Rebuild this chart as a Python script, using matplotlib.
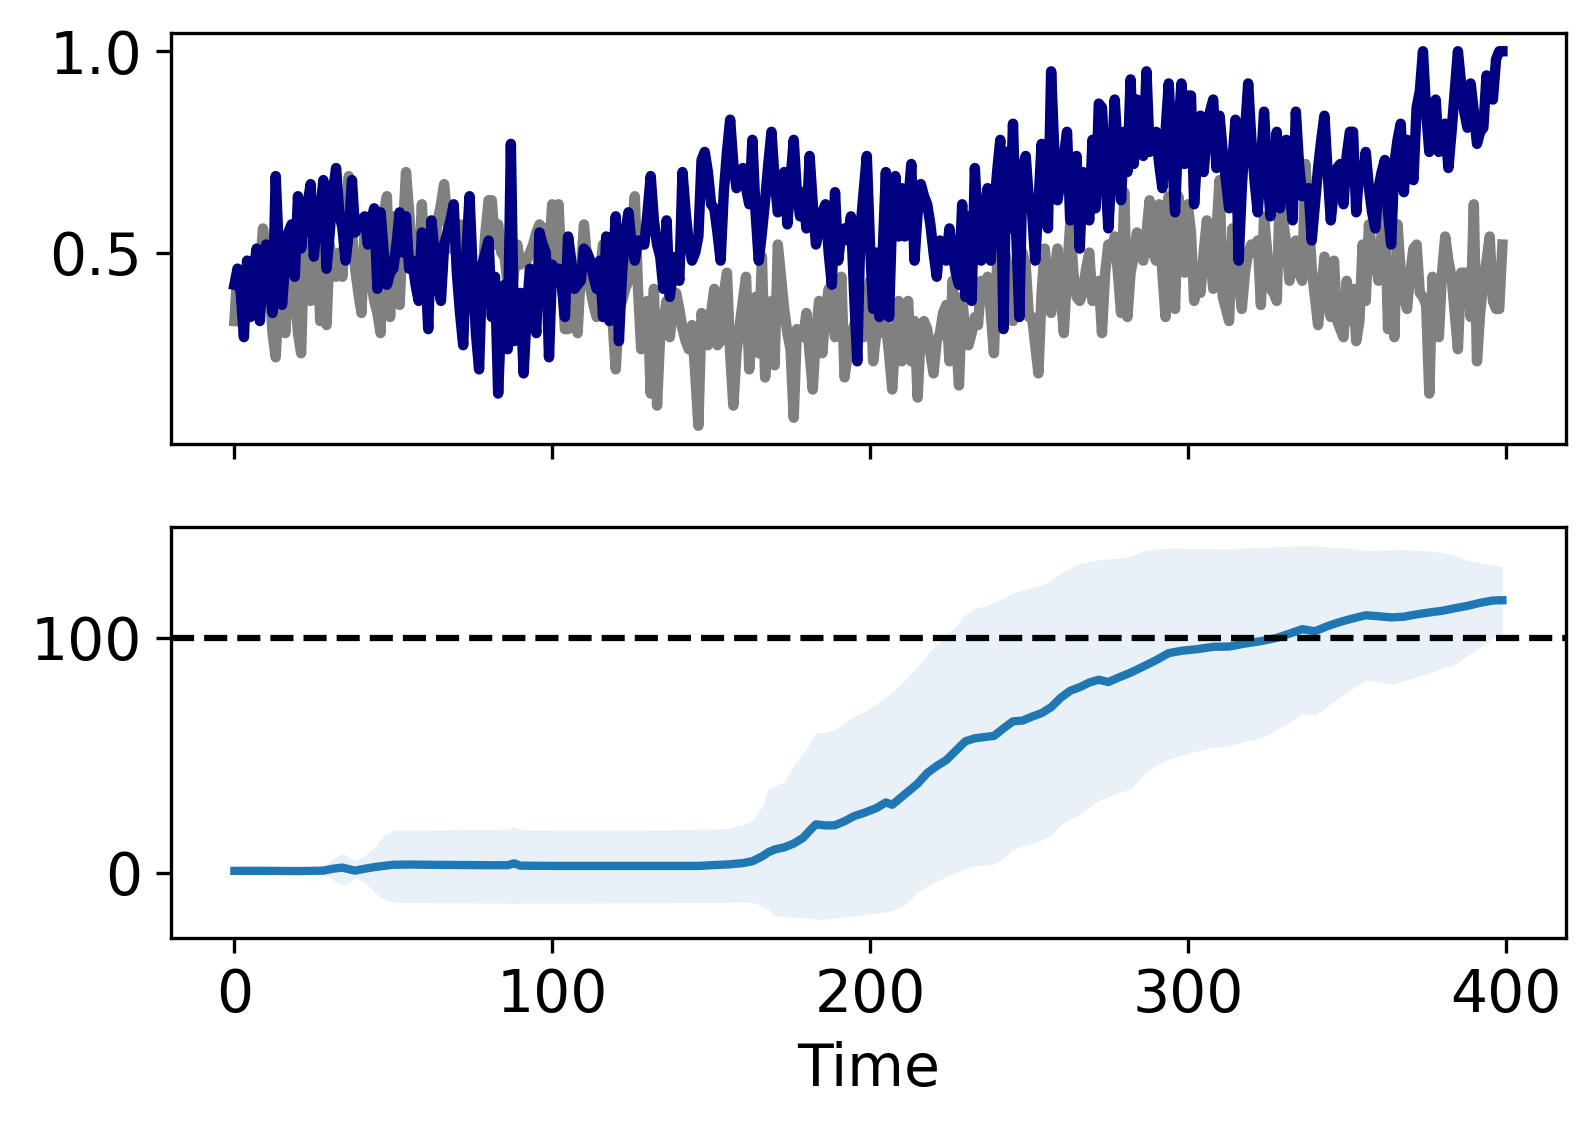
import matplotlib
matplotlib.use('Agg')
import matplotlib.pyplot as plt
import numpy as np

# top panel: two noisy series, one value per time step
blue_vals = [
    0.42, 0.46, 0.40, 0.29, 0.48, 0.34, 0.45, 0.51, 0.33, 0.45,
    0.52, 0.42, 0.35, 0.69, 0.50, 0.37, 0.48, 0.55, 0.57, 0.44,
    0.64, 0.51, 0.58, 0.62, 0.67, 0.49, 0.58, 0.60, 0.68, 0.46,
    0.55, 0.65, 0.71, 0.60, 0.56, 0.48, 0.55, 0.68, 0.55, 0.57,
    0.58, 0.59, 0.52, 0.58, 0.61, 0.41, 0.60, 0.50, 0.42, 0.45,
    0.46,
    0.52, 0.60, 0.50, 0.59, 0.46, 0.48, 0.42, 0.38, 0.55, 0.47,
    0.31, 0.58, 0.50, 0.42, 0.38, 0.52, 0.55, 0.58, 0.62, 0.45,
    0.35, 0.27, 0.50, 0.64, 0.45, 0.30, 0.21, 0.47, 0.50, 0.53,
    0.34, 0.44, 0.15, 0.35, 0.42, 0.26, 0.77, 0.28, 0.35, 0.40,
    0.20, 0.35, 0.46, 0.38, 0.30, 0.55, 0.52, 0.50, 0.24, 0.47,
    0.45, 0.46, 0.42, 0.34, 0.54, 0.48, 0.41, 0.42, 0.43, 0.51,
    0.50, 0.48, 0.44, 0.41, 0.48, 0.34, 0.54, 0.33, 0.45, 0.59,
    0.28, 0.45, 0.55, 0.60, 0.52, 0.48, 0.53, 0.52, 0.52, 0.60,
    0.69, 0.58, 0.52, 0.49, 0.41, 0.58, 0.39, 0.45, 0.49, 0.43,
    0.70, 0.60, 0.52, 0.48, 0.50, 0.54, 0.73, 0.75, 0.70, 0.62,
    0.61, 0.55, 0.48, 0.65, 0.75, 0.83, 0.72, 0.66, 0.68, 0.71,
    0.66, 0.62, 0.78, 0.60, 0.48, 0.55, 0.63, 0.72, 0.80, 0.68,
    0.60, 0.65, 0.70, 0.57, 0.68, 0.78, 0.65, 0.59, 0.65, 0.56,
    0.74, 0.62, 0.52, 0.56, 0.60, 0.62, 0.50, 0.42, 0.65, 0.48,
    0.55, 0.56, 0.53, 0.59, 0.40, 0.23, 0.56, 0.65, 0.74, 0.52,
    0.36, 0.50, 0.34, 0.50, 0.70, 0.34, 0.60, 0.69, 0.54, 0.66,
    0.54, 0.62, 0.72, 0.48, 0.60, 0.67, 0.64, 0.62, 0.57, 0.50,
    0.44, 0.53, 0.50, 0.48, 0.56, 0.50, 0.45, 0.42, 0.62, 0.39,
    0.59, 0.38, 0.71, 0.55, 0.48, 0.60, 0.66, 0.48, 0.60, 0.70,
    0.78, 0.31, 0.75, 0.56, 0.82, 0.55, 0.34, 0.71, 0.74, 0.63,
    0.60, 0.48, 0.62, 0.77, 0.65, 0.56, 0.95, 0.75, 0.63, 0.68,
    0.74, 0.80, 0.58, 0.65, 0.74, 0.51, 0.70, 0.62, 0.58, 0.78,
    0.61, 0.87, 0.86, 0.70, 0.56, 0.70, 0.88, 0.75, 0.63, 0.80,
    0.70, 0.93, 0.72, 0.88, 0.80, 0.74, 0.95, 0.75, 0.78, 0.80,
    0.72, 0.66, 0.80, 0.92, 0.75, 0.60, 0.80, 0.92, 0.72, 0.89,
    0.89, 0.62, 0.75, 0.84, 0.70, 0.80, 0.85, 0.88, 0.71, 0.84,
    0.75, 0.68, 0.61, 0.72, 0.83, 0.48, 0.66, 0.80, 0.92, 0.78,
    0.68, 0.60, 0.72, 0.85, 0.70, 0.59, 0.70, 0.80, 0.61, 0.70,
    0.78, 0.65, 0.58, 0.85, 0.72, 0.64, 0.65, 0.66, 0.53, 0.62,
    0.71, 0.78, 0.84, 0.70, 0.58, 0.66, 0.71, 0.72, 0.62, 0.74,
    0.80, 0.80, 0.60, 0.71, 0.68, 0.75, 0.66, 0.60, 0.56, 0.66,
    0.70, 0.73, 0.60, 0.52, 0.72, 0.78, 0.82, 0.65, 0.78, 0.72,
    0.68, 0.86, 0.90, 1.00, 0.85, 0.75, 0.82, 0.88, 0.75, 0.78,
    0.82, 0.71, 0.80, 0.90, 1.00, 0.92, 0.85, 0.81, 0.92, 0.85,
    0.77, 0.80, 0.81, 0.94, 0.90, 0.88, 0.98, 1.00, 1.00,
]

gray_vals = [
    0.33, 0.46, 0.40, 0.35, 0.42, 0.38, 0.48, 0.40, 0.45, 0.56,
    0.50, 0.43, 0.30, 0.24, 0.40, 0.48, 0.30, 0.43, 0.48, 0.40,
    0.30, 0.25, 0.52, 0.45, 0.38, 0.50, 0.55, 0.33, 0.40, 0.32,
    0.52, 0.46, 0.44, 0.50, 0.44, 0.58, 0.69, 0.55, 0.46, 0.40,
    0.35, 0.56, 0.50, 0.43, 0.38, 0.35, 0.30, 0.60, 0.64, 0.34,
    0.59,
    0.42, 0.37, 0.55, 0.70, 0.60, 0.48, 0.46, 0.44, 0.62, 0.43,
    0.46, 0.48, 0.52, 0.58, 0.62, 0.67, 0.58, 0.51, 0.55, 0.51,
    0.57, 0.50, 0.47, 0.44, 0.41, 0.39, 0.42, 0.44, 0.55, 0.63,
    0.63, 0.52, 0.57, 0.50, 0.49, 0.42, 0.38, 0.45, 0.52, 0.47,
    0.48, 0.48, 0.50, 0.52, 0.55, 0.57, 0.56, 0.56, 0.49, 0.62,
    0.45, 0.62, 0.45, 0.31, 0.31, 0.35, 0.42, 0.30, 0.45, 0.57,
    0.48, 0.41, 0.37, 0.34, 0.45, 0.52, 0.43, 0.46, 0.33, 0.21,
    0.36, 0.38, 0.41, 0.43, 0.55, 0.64, 0.41, 0.26, 0.33, 0.38,
    0.15, 0.41, 0.12, 0.30, 0.33, 0.38, 0.29, 0.35, 0.40, 0.36,
    0.31, 0.28, 0.26, 0.32, 0.20, 0.07, 0.35, 0.30, 0.27, 0.35,
    0.41, 0.27, 0.28, 0.40, 0.45, 0.25, 0.12, 0.25, 0.32, 0.38,
    0.44, 0.21, 0.35, 0.39, 0.25, 0.49, 0.19, 0.30, 0.38, 0.22,
    0.52, 0.44, 0.36, 0.30, 0.26, 0.09, 0.31, 0.30, 0.29, 0.35,
    0.25, 0.16, 0.30, 0.38, 0.25, 0.35, 0.41, 0.35, 0.29, 0.38,
    0.44, 0.19, 0.25, 0.29, 0.32, 0.34, 0.31, 0.29, 0.36, 0.43,
    0.23, 0.30, 0.30, 0.35, 0.32, 0.25, 0.16, 0.30, 0.38, 0.23,
    0.30, 0.38, 0.23, 0.33, 0.14, 0.31, 0.33, 0.31, 0.25, 0.20,
    0.28, 0.30, 0.35, 0.37, 0.23, 0.43, 0.30, 0.17, 0.39, 0.30,
    0.27, 0.30, 0.34, 0.32, 0.43, 0.40, 0.44, 0.35, 0.25, 0.47,
    0.50, 0.52, 0.48, 0.40, 0.33, 0.47, 0.45, 0.50, 0.47, 0.34,
    0.34, 0.27, 0.20, 0.40, 0.51, 0.42, 0.35, 0.45, 0.51, 0.40,
    0.30, 0.45, 0.57, 0.45, 0.39, 0.38, 0.40, 0.46, 0.50, 0.38,
    0.40, 0.43, 0.30, 0.45, 0.52, 0.50, 0.54, 0.45, 0.35, 0.65,
    0.34, 0.45, 0.49, 0.55, 0.50, 0.48, 0.55, 0.63, 0.50, 0.48,
    0.62, 0.45, 0.34, 0.64, 0.45, 0.36, 0.64, 0.50, 0.45, 0.62,
    0.55, 0.38, 0.45, 0.40, 0.50, 0.58, 0.50, 0.41, 0.55, 0.68,
    0.39, 0.36, 0.33, 0.56, 0.48, 0.43, 0.36, 0.45, 0.50, 0.52,
    0.50, 0.53, 0.37, 0.59, 0.50, 0.41, 0.40, 0.38, 0.66, 0.58,
    0.52, 0.43, 0.48, 0.53, 0.45, 0.43, 0.72, 0.60, 0.46, 0.39,
    0.32, 0.40, 0.49, 0.38, 0.34, 0.48, 0.33, 0.31, 0.29, 0.43,
    0.33, 0.41, 0.28, 0.33, 0.52, 0.38, 0.57, 0.50, 0.48, 0.43,
    0.55, 0.61, 0.31, 0.47, 0.29, 0.57, 0.45, 0.39, 0.36, 0.45,
    0.51, 0.52, 0.40, 0.39, 0.37, 0.15, 0.44, 0.35, 0.29, 0.45,
    0.54, 0.48, 0.44, 0.35, 0.26, 0.45, 0.45, 0.45, 0.34, 0.62,
    0.23, 0.35, 0.43, 0.48, 0.54, 0.38, 0.36, 0.36, 0.52,
]

# bottom panel: mean curve with a spread band, read at these times
band_t = [0, 10, 20, 28, 31, 34, 36, 38, 41, 44, 47, 50, 55, 60, 70, 80, 86, 88, 90,
          100, 110, 120, 130, 140, 146, 150, 155, 160, 163, 166, 168, 170, 173, 176,
          179, 181, 183, 186, 189, 192, 195, 198, 202, 205, 207, 211, 215, 218, 221,
          224, 227, 230, 233, 236, 239, 242, 245, 248, 251, 254, 257, 260, 263, 266,
          269, 272, 275, 278, 282, 286, 290, 294, 298, 303, 308, 313, 318, 323, 328,
          332, 336, 340, 344, 348, 352, 356, 360, 364, 368, 372, 376, 380, 384, 388,
          392, 396, 399]
band_mean = [0.9, 0.9, 0.8, 1.0, 1.8, 2.3, 1.6, 1.0, 1.8, 2.5, 3.0, 3.5, 3.6, 3.5, 3.4,
             3.3, 3.3, 4.1, 3.1, 3.0, 3.0, 3.0, 3.0, 3.0, 3.0, 3.3, 3.6, 4.2, 5.0, 7.0,
             8.8, 10.0, 10.9, 12.5, 15.0, 18.0, 20.7, 20.2, 20.3, 22.0, 24.2, 25.5, 27.6,
             30.0, 29.0, 33.5, 38.0, 42.5, 45.5, 48.0, 52.0, 56.0, 57.3, 57.8, 58.3, 61.5,
             64.5, 64.8, 66.5, 68.0, 70.5, 74.5, 77.5, 79.0, 81.0, 82.2, 81.2, 83.0, 85.2,
             87.8, 90.5, 93.5, 94.5, 95.2, 96.2, 96.3, 97.6, 98.6, 100.0, 101.8, 103.7,
             102.8, 105.0, 106.8, 108.3, 109.6, 109.2, 108.7, 109.0, 110.0, 110.8, 111.5,
             112.6, 113.6, 114.9, 115.9, 116.0]
band_low = [0.9, 0.9, 0.8, -0.5, -3.0, -5.0, -4.0, -2.3, -4.0, -8.0, -11.0, -12.4, -12.6,
            -12.6, -12.7, -12.8, -12.8, -13.3, -12.8, -12.8, -12.8, -12.7, -12.7, -12.6,
            -12.6, -12.6, -12.5, -12.3, -12.5, -14.0, -15.4, -18.3, -18.5, -18.8, -19.0,
            -19.3, -19.7, -19.5, -19.2, -18.5, -18.3, -17.8, -17.0, -16.5, -16.0, -13.5,
            -8.3, -5.5, -3.5, -1.5, 0.0, 2.0, 3.0, 3.3, 3.7, 6.5, 10.0, 11.5, 12.5, 14.0,
            16.0, 20.5, 23.0, 25.0, 28.0, 31.0, 32.5, 34.2, 35.6, 42.0, 45.5, 48.5, 50.0,
            51.9, 53.4, 54.1, 56.0, 57.3, 61.0, 64.0, 67.6, 67.0, 71.0, 75.0, 78.5, 82.2,
            81.5, 80.3, 81.8, 83.5, 85.0, 87.0, 88.8, 92.5, 96.0, 100.0, 101.6]
band_high = [0.9, 0.9, 0.8, 2.5, 6.0, 8.4, 6.5, 5.1, 7.3, 10.8, 15.8, 18.0, 18.3, 18.3,
             18.4, 18.5, 18.6, 19.7, 18.4, 18.3, 18.3, 18.3, 18.3, 18.4, 18.6, 18.6, 19.0,
             20.5, 22.5, 28.0, 36.0, 37.0, 38.8, 46.0, 51.0, 55.0, 59.7, 59.7, 61.0, 64.0,
             66.6, 68.2, 72.0, 75.0, 77.0, 82.0, 88.0, 93.0, 97.0, 101.0, 105.0, 110.0,
             112.5, 113.5, 115.0, 117.0, 119.0, 120.5, 121.5, 122.5, 124.5, 127.5, 129.8,
             131.5, 132.5, 133.2, 133.6, 133.8, 134.7, 137.0, 137.8, 138.2, 138.1, 138.0,
             137.9, 137.9, 138.2, 138.5, 138.8, 139.0, 139.2, 139.0, 138.7, 138.4, 138.0,
             137.1, 137.3, 137.5, 137.5, 137.2, 137.0, 136.3, 135.0, 133.0, 132.0, 131.2,
             130.0]
target_level = 100

plt.rcParams['font.family'] = 'DejaVu Sans'
plt.rcParams['font.size'] = 14

fig = plt.figure(figsize=(1595 / 300, 1129 / 300), dpi=300)
ax1 = fig.add_axes([0.1072, 0.6063, 0.8745, 0.3649])
ax2 = fig.add_axes([0.1072, 0.1692, 0.8745, 0.3640], sharex=ax1)

t = np.arange(len(blue_vals))
ax1.plot(t, gray_vals, color='gray', linewidth=2.5)
ax1.plot(t, blue_vals, color='navy', linewidth=2.5)
ax1.set_yticks([0.5, 1.0])
ax1.tick_params(labelbottom=False)

ax2.fill_between(band_t, band_low, band_high, color='#1f77b4', alpha=0.1, linewidth=0)
ax2.plot(band_t, band_mean, color='#1f77b4', linewidth=2)
ax2.axhline(target_level, color='black', linestyle='--', linewidth=1.5)
ax2.set_yticks([0, 100])
ax2.set_xticks([0, 100, 200, 300, 400])
ax2.set_xlabel('Time')

fig.savefig('out.png', dpi=300)
